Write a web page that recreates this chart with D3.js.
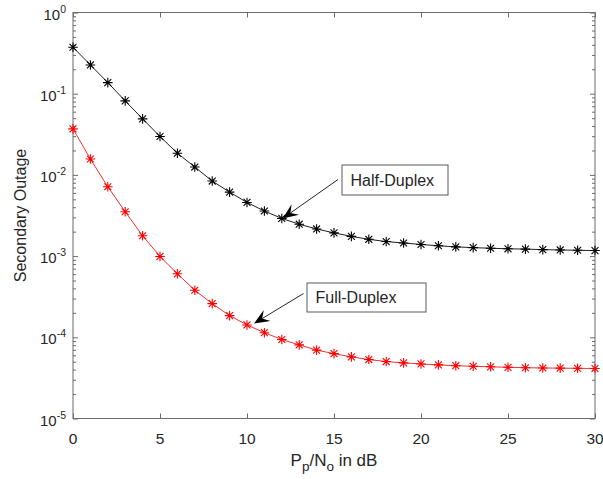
<!DOCTYPE html>
<html>
<head>
<meta charset="utf-8">
<script src="https://cdn.jsdelivr.net/npm/d3@7"></script>
<style>
  body { margin: 0; background: #fff; }
  svg { display: block; }
  text { font-family: "Liberation Sans", Arial, Helvetica, sans-serif; fill: #262626; }
</style>
</head>
<body>
<svg id="chart" width="603" height="479"></svg>
<script>
// Primary transmit SNR (dB)
const snrDb = [0, 1, 2, 3, 4, 5, 6, 7, 8, 9, 10, 11, 12, 13, 14, 15,
               16, 17, 18, 19, 20, 21, 22, 23, 24, 25, 26, 27, 28, 29, 30];

// Secondary outage probability, half-duplex relaying
const halfDuplex = [0.373, 0.226, 0.137, 0.0815, 0.049, 0.0297, 0.0185, 0.0125,
                    0.0084, 0.00614, 0.00458, 0.00359, 0.00291, 0.00247, 0.00216,
                    0.00193, 0.00175, 0.00161, 0.00151, 0.00145, 0.00139, 0.00134,
                    0.00130, 0.00127, 0.00125, 0.00123, 0.00122, 0.00120, 0.00119,
                    0.00118, 0.00117];

// Secondary outage probability, full-duplex relaying
const fullDuplex = [0.0369, 0.0157, 0.00714, 0.00352, 0.00178, 0.00099, 6.05e-4,
                    3.8e-4, 2.6e-4, 1.85e-4, 1.42e-4, 1.14e-4, 9.4e-5, 8.06e-5,
                    6.95e-5, 6.3e-5, 5.74e-5, 5.32e-5, 5.03e-5, 4.84e-5, 4.7e-5,
                    4.57e-5, 4.47e-5, 4.4e-5, 4.33e-5, 4.27e-5, 4.22e-5, 4.19e-5,
                    4.17e-5, 4.15e-5, 4.13e-5];

const xTicks = [0, 5, 10, 15, 20, 25, 30];
const yExponents = [0, -1, -2, -3, -4, -5];

// Text arrows: label, arrow tip (data coords)
const noteLabels = ["Half-Duplex", "Full-Duplex"];
const noteTipX = [12.05, 10.4];
const noteTipY = [halfDuplex[12], fullDuplex[10] * 1.04];

const svg = d3.select("#chart");
const L = 73, T = 12.5, R = 595, B = 418.5;

const x = d3.scaleLinear().domain([0, 30]).range([L, R]);
const y = d3.scaleLog().domain([1e-5, 1]).range([B, T]);

const axisColor = "#6b6b6b";

// Minor tick values on the log axis
const minorTicks = [];
for (let e = -5; e < 0; e++) {
  for (let m = 2; m <= 9; m++) minorTicks.push(m * Math.pow(10, e));
}

function styleAxis(g) {
  g.select(".domain").remove();
  g.selectAll(".tick line").attr("stroke", axisColor).attr("stroke-width", 1);
}

// x ticks (bottom and top, pointing inward)
svg.append("g").attr("transform", `translate(0,${B})`)
  .call(d3.axisBottom(x).tickValues(xTicks).tickSize(-5).tickFormat(""))
  .call(styleAxis);
svg.append("g").attr("transform", `translate(0,${T})`)
  .call(d3.axisTop(x).tickValues(xTicks).tickSize(-5).tickFormat(""))
  .call(styleAxis);

// y major and minor ticks (left and right)
const yMajor = yExponents.map(e => Math.pow(10, e));
svg.append("g").attr("transform", `translate(${L},0)`)
  .call(d3.axisLeft(y).tickValues(yMajor).tickSize(-5).tickFormat(""))
  .call(styleAxis);
svg.append("g").attr("transform", `translate(${R},0)`)
  .call(d3.axisRight(y).tickValues(yMajor).tickSize(-5).tickFormat(""))
  .call(styleAxis);
svg.append("g").attr("transform", `translate(${L},0)`)
  .call(d3.axisLeft(y).tickValues(minorTicks).tickSize(-3).tickFormat(""))
  .call(styleAxis);
svg.append("g").attr("transform", `translate(${R},0)`)
  .call(d3.axisRight(y).tickValues(minorTicks).tickSize(-3).tickFormat(""))
  .call(styleAxis);

// Axes box
svg.append("rect")
  .attr("x", L).attr("y", T).attr("width", R - L).attr("height", B - T)
  .attr("fill", "none").attr("stroke", axisColor).attr("stroke-width", 1);

// x tick labels
svg.append("g").selectAll("text").data(xTicks).join("text")
  .attr("x", d => x(d)).attr("y", B + 25)
  .attr("text-anchor", "middle").attr("font-size", 15.5)
  .text(d => d);

// y tick labels as powers of ten
const yl = svg.append("g").selectAll("text").data(yExponents).join("text")
  .attr("x", 66).attr("y", d => y(Math.pow(10, d)) + 7)
  .attr("text-anchor", "end").attr("font-size", 15);
yl.append("tspan").text("10");
yl.append("tspan").attr("dy", -7).attr("font-size", 10.5)
  .text(d => d === 0 ? "0" : "-" + Math.abs(d));

// Axis titles
const xt = svg.append("text").attr("x", 334).attr("y", 466)
  .attr("text-anchor", "middle").attr("font-size", 17);
xt.append("tspan").text("P");
xt.append("tspan").attr("dy", 5).attr("font-size", 13.5).text("p");
xt.append("tspan").attr("dy", -5).text("/N");
xt.append("tspan").attr("dy", 5).attr("font-size", 13.5).text("o");
xt.append("tspan").attr("dy", -5).text(" in dB");

svg.append("text")
  .attr("transform", `translate(26,${(T + B) / 2}) rotate(-90)`)
  .attr("text-anchor", "middle").attr("font-size", 16)
  .text("Secondary Outage");

// Series
const seriesList = [
  { values: halfDuplex, line: "#202020", marker: "#000000" },
  { values: fullDuplex, line: "#f23030", marker: "#ff0000" }
];

const lineGen = d3.line().x((d, i) => x(snrDb[i])).y(d => y(d));
const r = 4.8, dg = r * 0.72;
const star = `M${-r},0L${r},0M0,${-r}L0,${r}M${-dg},${-dg}L${dg},${dg}M${-dg},${dg}L${dg},${-dg}`;

seriesList.forEach(s => {
  svg.append("path").datum(s.values)
    .attr("d", lineGen).attr("fill", "none")
    .attr("stroke", s.line).attr("stroke-width", 1);
  svg.append("g").selectAll("path").data(s.values).join("path")
    .attr("transform", (d, i) => `translate(${x(snrDb[i])},${y(d)})`)
    .attr("d", star).attr("fill", "none")
    .attr("stroke", s.marker).attr("stroke-width", 1.1);
});

// Text arrows with boxed labels
const boxes = [
  { bx: 342, by: 165, bw: 106, bh: 30, tx: 338, ty: 179.5 },
  { bx: 307, by: 283, bw: 119, bh: 29, tx: 303.5, ty: 293.5 }
];

noteLabels.forEach((label, i) => {
  const b = boxes[i];
  const g = svg.append("g");
  g.append("rect").attr("x", b.bx).attr("y", b.by)
    .attr("width", b.bw).attr("height", b.bh)
    .attr("fill", "#fff").attr("stroke", "#5a5a5a").attr("stroke-width", 1);
  g.append("text").attr("x", b.bx + 8.5).attr("y", b.by + b.bh / 2 + 5.8)
    .attr("font-size", 16).text(label);

  const tipX = x(noteTipX[i]), tipY = y(noteTipY[i]);
  const ang = Math.atan2(tipY - b.ty, tipX - b.tx);
  const ux = Math.cos(ang), uy = Math.sin(ang);
  const hl = 14, hw = 6.5, notch = 9.5;
  const baseX = tipX - ux * hl, baseY = tipY - uy * hl;
  g.append("line").attr("x1", b.tx).attr("y1", b.ty)
    .attr("x2", tipX - ux * notch).attr("y2", tipY - uy * notch)
    .attr("stroke", "#262626").attr("stroke-width", 1);
  const p1 = [baseX - uy * hw - ux * 1.5, baseY + ux * hw - uy * 1.5];
  const p2 = [baseX + uy * hw - ux * 1.5, baseY - ux * hw - uy * 1.5];
  const pn = [tipX - ux * notch, tipY - uy * notch];
  g.append("path")
    .attr("d", `M${tipX},${tipY}L${p1[0]},${p1[1]}L${pn[0]},${pn[1]}L${p2[0]},${p2[1]}Z`)
    .attr("fill", "#000").attr("stroke", "none");
});
</script>
</body>
</html>
